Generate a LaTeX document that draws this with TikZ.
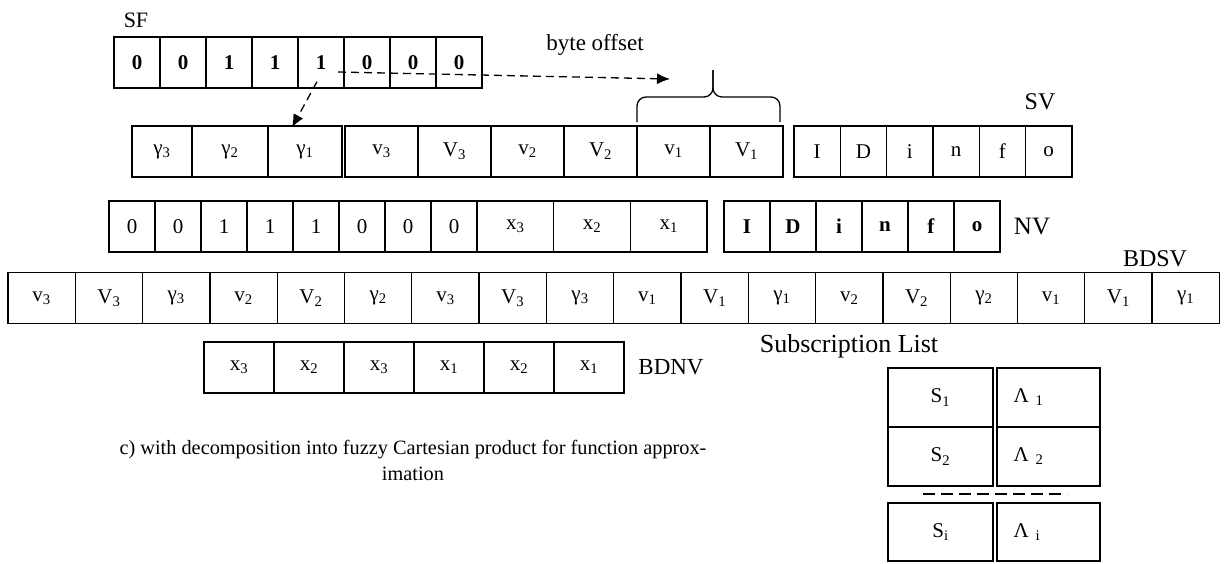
\documentclass[tikz,border=0pt]{standalone}
\usepackage{fontspec}
\setmainfont{Liberation Serif}
\usetikzlibrary{arrows.meta}

\begin{document}
\begin{tikzpicture}[x=1pt, y=-1pt, font=\fontsize{21}{25}\selectfont,
    cell/.style={draw, line width=1.3pt, inner sep=0pt, minimum height=51pt},
    bit/.style={cell, minimum width=46pt, node distance=46pt},
    val/.style={cell, minimum width=73pt, node distance=73pt},
    chr/.style={cell, minimum width=46.3pt, node distance=46.3pt},
    xval/.style={cell, minimum width=76.7pt, node distance=76.7pt},
    bd/.style={cell, minimum width=67.3pt, node distance=67.3pt},
    bdx/.style={cell, minimum width=70pt, node distance=70pt},
    sub/.style={cell, minimum height=59pt},
    ptr/.style={line width=1.3pt, dash pattern=on 8pt off 5pt, -{Latex[length=13pt,width=11pt]}}]
    \useasboundingbox (0,0) rectangle (1228,563);

    % SF
    \node[font=\fontsize{22}{26}\selectfont] (sflbl) at (136,20) {SF};
    \node[bit] (sf1) at (137,62.5) {\textbf{0}};
    \node[bit, right of=sf1] (sf2) {\textbf{0}};
    \node[bit, right of=sf2] (sf3) {\textbf{1}};
    \node[bit, right of=sf3] (sf4) {\textbf{1}};
    \node[bit, right of=sf4] (sf5) {\textbf{1}};
    \node[bit, right of=sf5] (sf6) {\textbf{0}};
    \node[bit, right of=sf6] (sf7) {\textbf{0}};
    \node[bit, right of=sf7] (sf8) {\textbf{0}};

    % SV
    \node[cell, minimum width=60pt] (ga3) at (162,151.5) {γ\textsubscript{3}};
    \node[cell, minimum width=76pt] (ga2) at (230,151.5) {γ\textsubscript{2}};
    \node[cell, minimum width=74pt] (ga1) at (305,151.5) {γ\textsubscript{1}};
    \node[val] (sv1) at (381.5,151.5) {v\textsubscript{3}};
    \node[val, right of=sv1] (sv2) {V\textsubscript{3}};
    \node[val, right of=sv2] (sv3) {v\textsubscript{2}};
    \node[val, right of=sv3] (sv4) {V\textsubscript{2}};
    \node[val, right of=sv4] (sv5) {v\textsubscript{1}};
    \node[val, right of=sv5] (sv6) {V\textsubscript{1}};
    \node[chr] (id1) at (817.2,151.5) {I};
    \node[chr, right of=id1] (id2) {D};
    \node[chr, right of=id2] (id3) {i};
    \node[chr, right of=id3] (id4) {n};
    \node[chr, right of=id4] (id5) {f};
    \node[chr, right of=id5] (id6) {o};
    \node[font=\fontsize{24}{28}\selectfont] (svlbl) at (1040,102) {SV};

    % NV
    \node[bit] (nb1) at (132,226.5) {0};
    \node[bit, right of=nb1] (nb2) {0};
    \node[bit, right of=nb2] (nb3) {1};
    \node[bit, right of=nb3] (nb4) {1};
    \node[bit, right of=nb4] (nb5) {1};
    \node[bit, right of=nb5] (nb6) {0};
    \node[bit, right of=nb6] (nb7) {0};
    \node[bit, right of=nb7] (nb8) {0};
    \node[xval] (nx3) at (515.35,226.5) {x\textsubscript{3}};
    \node[xval, right of=nx3] (nx2) {x\textsubscript{2}};
    \node[xval, right of=nx2] (nx1) {x\textsubscript{1}};
    \node[bit] (nid1) at (747,226.5) {\textbf{I}};
    \node[bit, right of=nid1] (nid2) {\textbf{D}};
    \node[bit, right of=nid2] (nid3) {\textbf{i}};
    \node[bit, right of=nid3] (nid4) {\textbf{n}};
    \node[bit, right of=nid4] (nid5) {\textbf{f}};
    \node[bit, right of=nid5] (nid6) {\textbf{o}};
    \node[font=\fontsize{25}{30}\selectfont] (nvlbl) at (1032,226.5) {NV};

    % BDSV
    \node[bd] (bs1) at (41.65,298) {v\textsubscript{3}};
    \node[bd, right of=bs1] (bs2) {V\textsubscript{3}};
    \node[bd, right of=bs2] (bs3) {γ\textsubscript{3}};
    \node[bd, right of=bs3] (bs4) {v\textsubscript{2}};
    \node[bd, right of=bs4] (bs5) {V\textsubscript{2}};
    \node[bd, right of=bs5] (bs6) {γ\textsubscript{2}};
    \node[bd, right of=bs6] (bs7) {v\textsubscript{3}};
    \node[bd, right of=bs7] (bs8) {V\textsubscript{3}};
    \node[bd, right of=bs8] (bs9) {γ\textsubscript{3}};
    \node[bd, right of=bs9] (bs10) {v\textsubscript{1}};
    \node[bd, right of=bs10] (bs11) {V\textsubscript{1}};
    \node[bd, right of=bs11] (bs12) {γ\textsubscript{1}};
    \node[bd, right of=bs12] (bs13) {v\textsubscript{2}};
    \node[bd, right of=bs13] (bs14) {V\textsubscript{2}};
    \node[bd, right of=bs14] (bs15) {γ\textsubscript{2}};
    \node[bd, right of=bs15] (bs16) {v\textsubscript{1}};
    \node[bd, right of=bs16] (bs17) {V\textsubscript{1}};
    \node[bd, right of=bs17] (bs18) {γ\textsubscript{1}};
    \node[font=\fontsize{24}{28}\selectfont] (bsvlbl) at (1155,259) {BDSV};

    % BDNV
    \node[bdx] (bn1) at (239,367.5) {x\textsubscript{3}};
    \node[bdx, right of=bn1] (bn2) {x\textsubscript{2}};
    \node[bdx, right of=bn2] (bn3) {x\textsubscript{3}};
    \node[bdx, right of=bn3] (bn4) {x\textsubscript{1}};
    \node[bdx, right of=bn4] (bn5) {x\textsubscript{2}};
    \node[bdx, right of=bn5] (bn6) {x\textsubscript{1}};
    \node[font=\fontsize{23}{27}\selectfont] (bnvlbl) at (671,367.5) {BDNV};

    % Subscription List
    \node[font=\fontsize{26}{30}\selectfont] (subl) at (849,346) {Subscription List};
    \node[sub, minimum width=105pt] (s1) at (940.5,397.5) {S\textsubscript{1}};
    \node[sub, minimum width=103pt, text width=70pt, align=left] (l1) at (1048.5,397.5) {Λ \textsubscript{1}};
    \node[sub, minimum width=105pt] (s2) at (940.5,456.5) {S\textsubscript{2}};
    \node[sub, minimum width=103pt, text width=70pt, align=left] (l2) at (1048.5,456.5) {Λ \textsubscript{2}};
    \node[sub, minimum width=105pt, minimum height=58pt] (si) at (940.5,532) {S\textsubscript{i}};
    \node[sub, minimum width=103pt, minimum height=58pt, text width=70pt, align=left] (li) at (1048.5,532) {Λ \textsubscript{i}};
    \draw[line width=1.3pt, dash pattern=on 12pt off 6pt] (923,494) -- (1067,494);

    % caption
    \node[align=center, font=\fontsize{20.3}{26}\selectfont] (cap) at (413,460) {c) with decomposition into fuzzy Cartesian product for function approx-\\imation};

    % byte offset brace
    \draw[line width=1.3pt, rounded corners=9pt] (637,122) -- (637,97) -- (713,97) -- (713,70);
    \draw[line width=1.3pt, rounded corners=9pt] (713,70) -- (713,97) -- (780,97) -- (780,122);
    \node[font=\fontsize{23}{27}\selectfont] (boff) at (595,45) {byte offset};
    \coordinate (offend) at (670,79);

    % Arrows
    \draw[ptr] ([xshift=17pt,yshift=-9.5pt]sf5.center) -- (offend);
    \draw[ptr] ([xshift=-4pt,yshift=7pt]sf5.south) -- ([xshift=-13pt,yshift=-2pt]ga1.north);
\end{tikzpicture}
\end{document}
